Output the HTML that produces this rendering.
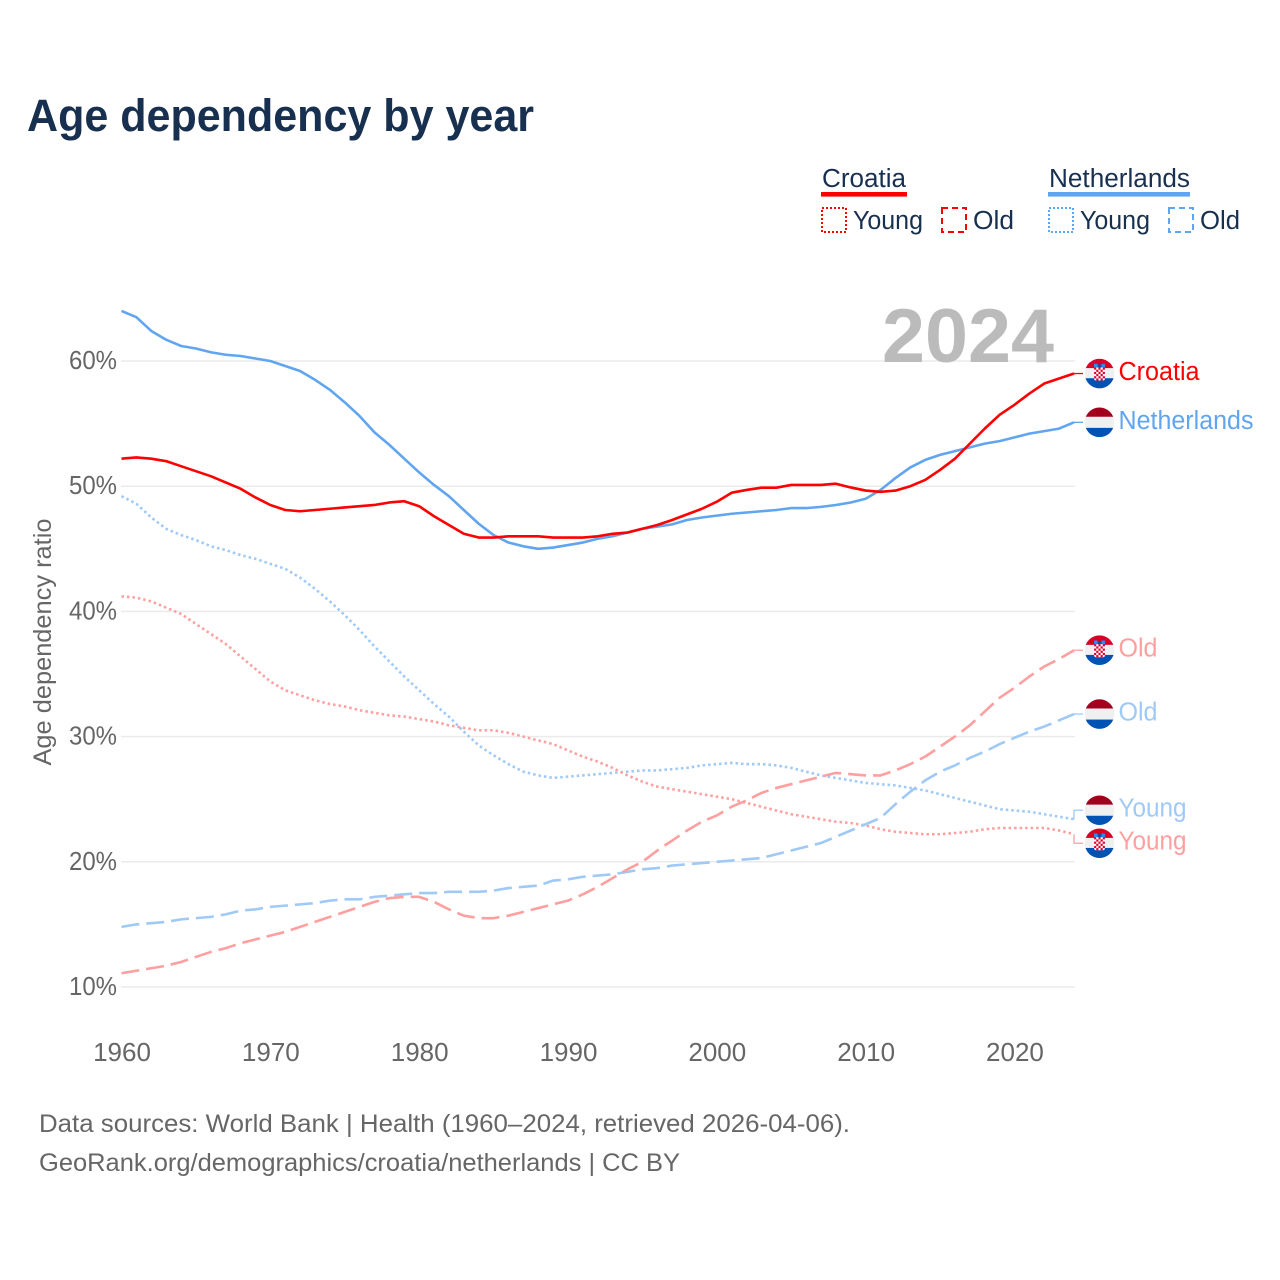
<!DOCTYPE html>
<html lang="en">
<head>
<meta charset="utf-8">
<title>Age dependency by year</title>
<style>
html,body{margin:0;padding:0;background:#fff}
svg{display:block;font-family:"Liberation Sans",sans-serif}
</style>
</head>
<body>
<svg id="chart" xmlns="http://www.w3.org/2000/svg" width="1280" height="1280" viewBox="0 0 1280 1280">
  <defs>
    <clipPath id="flag-clip"><circle cx="0" cy="0" r="14.8"></circle></clipPath>
  </defs>
  <rect width="1280" height="1280" fill="#fff"></rect>
  <text x="27" y="131" font-size="45" font-weight="700" fill="#18304f" textLength="507" lengthAdjust="spacingAndGlyphs">Age dependency by year</text>

  <g font-size="25.5" fill="#18304f">
    <g>
      <text x="822" y="187" textLength="84" lengthAdjust="spacingAndGlyphs">Croatia</text>
      <rect x="821" y="192" width="86" height="4.6" fill="#ff0000"></rect>
      <rect x="822" y="208" width="24" height="24" fill="none" stroke="#ff0000" stroke-width="2" stroke-dasharray="2 2"></rect>
      <text x="853" y="229" textLength="70" lengthAdjust="spacingAndGlyphs">Young</text>
      <rect x="942" y="208" width="24" height="24" fill="none" stroke="#ff0000" stroke-width="2" stroke-dasharray="6 4"></rect>
      <text x="973" y="229" textLength="41" lengthAdjust="spacingAndGlyphs">Old</text>
    </g>
    <g>
      <text x="1049" y="187" textLength="141" lengthAdjust="spacingAndGlyphs">Netherlands</text>
      <rect x="1048" y="192" width="142" height="4.6" fill="#60a5f0"></rect>
      <rect x="1049" y="208" width="24" height="24" fill="none" stroke="#60a5f0" stroke-width="2" stroke-dasharray="2 2"></rect>
      <text x="1080" y="229" textLength="70" lengthAdjust="spacingAndGlyphs">Young</text>
      <rect x="1169" y="208" width="24" height="24" fill="none" stroke="#60a5f0" stroke-width="2" stroke-dasharray="6 4"></rect>
      <text x="1200" y="229" textLength="40" lengthAdjust="spacingAndGlyphs">Old</text>
    </g>
  </g>

  <g id="grid"></g>
  <g id="yticks" font-size="26" fill="#666"></g>
  <g id="xticks" font-size="26" fill="#666"></g>
  <text transform="translate(51,642) rotate(-90)" text-anchor="middle" font-size="25" fill="#666" textLength="247" lengthAdjust="spacingAndGlyphs">Age dependency ratio</text>
  <text x="882" y="362" font-size="76" font-weight="700" fill="#bbbbbb" textLength="172" lengthAdjust="spacingAndGlyphs">2024</text>
  <g id="series"></g>
  <g id="endlabels"></g>

  <text x="39" y="1132" font-size="25" fill="#666" textLength="811" lengthAdjust="spacingAndGlyphs">Data sources: World Bank | Health (1960–2024, retrieved 2026-04-06).</text>
  <text x="39" y="1171" font-size="25" fill="#666" textLength="641" lengthAdjust="spacingAndGlyphs">GeoRank.org/demographics/croatia/netherlands | CC BY</text>
</svg>
<script>
const firstYear = 1960;
const xTickYears = [1960, 1970, 1980, 1990, 2000, 2010, 2020];
const yTickValues = [10, 20, 30, 40, 50, 60];

const croatiaTotal = [52.2,52.3,52.2,52.0,51.6,51.2,50.8,50.3,49.8,49.1,48.5,48.1,48.0,48.1,48.2,48.3,48.4,48.5,48.7,48.8,48.4,47.6,46.9,46.2,45.9,45.9,46.0,46.0,46.0,45.9,45.9,45.9,46.0,46.2,46.3,46.6,46.9,47.3,47.75,48.2,48.76,49.48,49.7,49.88,49.88,50.1,50.1,50.1,50.2,49.9,49.65,49.55,49.65,50.0,50.5,51.3,52.2,53.4,54.6,55.7,56.5,57.4,58.2,58.6,59.0];
const netherlandsTotal = [64.0,63.5,62.4,61.7,61.2,61.0,60.7,60.5,60.4,60.2,60.0,59.6,59.2,58.5,57.7,56.7,55.6,54.3,53.3,52.2,51.1,50.1,49.2,48.1,47.0,46.1,45.5,45.2,45.0,45.1,45.3,45.5,45.8,46.0,46.3,46.6,46.77,46.95,47.3,47.5,47.65,47.8,47.9,48.0,48.1,48.25,48.25,48.35,48.5,48.7,49.0,49.7,50.65,51.5,52.1,52.5,52.8,53.1,53.4,53.6,53.9,54.2,54.4,54.6,55.1];
const croatiaYoung = [41.2,41.1,40.8,40.3,39.8,39.0,38.2,37.4,36.4,35.4,34.4,33.7,33.3,32.9,32.6,32.4,32.1,31.9,31.7,31.6,31.4,31.2,30.9,30.7,30.5,30.5,30.3,30.0,29.7,29.4,28.9,28.4,28.0,27.5,26.9,26.4,26.0,25.8,25.6,25.4,25.2,25.0,24.7,24.4,24.1,23.8,23.6,23.4,23.2,23.1,22.9,22.6,22.4,22.3,22.2,22.2,22.3,22.4,22.6,22.7,22.7,22.7,22.7,22.5,22.2];
const netherlandsYoung = [49.2,48.6,47.5,46.6,46.1,45.7,45.2,44.9,44.5,44.2,43.8,43.4,42.7,41.8,40.8,39.7,38.5,37.2,36.0,34.8,33.7,32.6,31.6,30.4,29.3,28.5,27.8,27.2,26.9,26.7,26.8,26.9,27.0,27.1,27.2,27.3,27.3,27.4,27.5,27.7,27.8,27.9,27.8,27.8,27.7,27.5,27.2,26.9,26.7,26.5,26.3,26.2,26.1,25.9,25.7,25.4,25.1,24.8,24.5,24.2,24.1,24.0,23.8,23.6,23.4];
const croatiaOld = [11.1,11.3,11.5,11.7,12.0,12.4,12.8,13.1,13.5,13.8,14.1,14.4,14.8,15.2,15.6,16.0,16.4,16.8,17.1,17.2,17.2,16.8,16.2,15.7,15.5,15.5,15.7,16.0,16.3,16.6,16.9,17.4,18.0,18.7,19.4,20.0,20.9,21.7,22.5,23.2,23.7,24.4,24.9,25.5,25.9,26.2,26.5,26.8,27.1,27.0,26.9,26.9,27.3,27.8,28.4,29.2,30.0,30.9,32.0,33.1,33.9,34.8,35.6,36.2,36.9];
const netherlandsOld = [14.8,15.0,15.1,15.2,15.4,15.5,15.6,15.8,16.1,16.2,16.4,16.5,16.6,16.7,16.9,17.0,17.0,17.2,17.3,17.4,17.5,17.5,17.6,17.6,17.6,17.7,17.9,18.0,18.1,18.5,18.6,18.8,18.9,19.0,19.2,19.4,19.5,19.7,19.8,19.9,20.0,20.1,20.2,20.3,20.6,20.9,21.2,21.5,22.0,22.5,23.0,23.5,24.6,25.6,26.5,27.2,27.7,28.3,28.8,29.4,29.9,30.4,30.8,31.3,31.8];

const SVG_NS = 'http://www.w3.org/2000/svg';
function xScale(year) { return 121.5 + (year - 1960) * (1074 - 121.5) / 64; }
function yScale(v) { return 987 - (v - 10) * 12.52; }
function make(tag, attrs, parent) {
  const el = document.createElementNS(SVG_NS, tag);
  for (const k in attrs) el.setAttribute(k, attrs[k]);
  parent.appendChild(el);
  return el;
}

const grid = document.getElementById('grid');
const yticks = document.getElementById('yticks');
const xticks = document.getElementById('xticks');
const seriesGroup = document.getElementById('series');
const endLabels = document.getElementById('endlabels');

yTickValues.forEach(function (v) {
  const line = make('line', { x1: 121, x2: 1075, y1: yScale(v), y2: yScale(v), stroke: '#ebebeb', 'stroke-width': 1.5 }, grid);
  
  
  const label = make('text', { x: 117, y: yScale(v) + 8, 'text-anchor': 'end', textLength: 48, lengthAdjust: 'spacingAndGlyphs' }, yticks);
  label.textContent = v + '%';
  
  
});

xTickYears.forEach(function (year) {
  const label = make('text', { x: xScale(year) + 0.5, y: 1061, 'text-anchor': 'middle' }, xticks);
  label.textContent = year;
  
  
});

const seriesList = [
  { key: 'netherlands-young', values: netherlandsYoung, color: '#9fc9f6', dash: '2.5 3', label: 'Young', flag: 'nl', width: 68 },
  { key: 'croatia-young', values: croatiaYoung, color: '#ff9f9f', dash: '2.5 3', label: 'Young', flag: 'hr', width: 68 },
  { key: 'netherlands-old', values: netherlandsOld, color: '#9fc9f6', dash: '18 7', label: 'Old', flag: 'nl', width: 39 },
  { key: 'croatia-old', values: croatiaOld, color: '#ff9f9f', dash: '18 7', label: 'Old', flag: 'hr', width: 39 },
  { key: 'netherlands-total', values: netherlandsTotal, color: '#60a5f0', dash: null, label: 'Netherlands', flag: 'nl', width: 135 },
  { key: 'croatia-total', values: croatiaTotal, color: '#ff0000', dash: null, label: 'Croatia', flag: 'hr', width: 81 }
];

function seriesPath(values) {
  return values.map(function (v, i) {
    return (i ? 'L' : 'M') + xScale(firstYear + i).toFixed(2) + ',' + yScale(v).toFixed(2);
  }).join('');
}

function dodgedLabelY(s) {
  const own = yScale(s.values[s.values.length - 1]);
  const minGap = 33;
  let result = own;
  seriesList.forEach(function (other) {
    if (other === s) return;
    const y = yScale(other.values[other.values.length - 1]);
    if (Math.abs(y - own) < minGap) {
      const mid = (y + own) / 2;
      result = own < y ? mid - minGap / 2 : mid + minGap / 2;
    }
  });
  return result;
}

function drawFlag(kind, parent) {
  const g = make('g', { 'clip-path': 'url(#flag-clip)' }, parent);
  const topColor = kind === 'nl' ? '#a2001d' : '#d80027';
  const splitTop = kind === 'nl' ? -5.5 : -5.3;
  const splitBottom = kind === 'nl' ? 5.5 : 4.7;
  make('rect', { x: -15, y: -15, width: 30, height: splitTop + 15, fill: topColor }, g);
  make('rect', { x: -15, y: splitTop, width: 30, height: splitBottom - splitTop, fill: '#f0f0f0' }, g);
  make('rect', { x: -15, y: splitBottom, width: 30, height: 15 - splitBottom, fill: '#0052b4' }, g);
  if (kind === 'hr') {
    make('rect', { x: -5.5, y: -9.7, width: 3.6, height: 3.8, fill: '#338af3' }, g);
    make('rect', { x: -1.5, y: -9, width: 3.2, height: 3.1, fill: '#0052b4' }, g);
    make('rect', { x: 2, y: -9.7, width: 3.6, height: 3.8, fill: '#338af3' }, g);
    make('rect', { x: -5.4, y: -6, width: 10.8, height: 13, rx: 2, fill: '#fff' }, g);
    for (let r = 0; r < 6; r++) {
      for (let c = 0; c < 5; c++) {
        if ((r + c) % 2 === 0) {
          make('rect', { x: -5.4 + c * 2.16, y: -6 + r * 2.17, width: 2.16, height: 2.17, fill: '#d80027' }, g);
        }
      }
    }
  }
  return g;
}

seriesList.forEach(function (s) {
  const attrs = { d: seriesPath(s.values), fill: 'none', stroke: s.color, 'stroke-width': 2.6, 'stroke-linejoin': 'round' };
  if (s.dash) attrs['stroke-dasharray'] = s.dash;
  const path = make('path', attrs, seriesGroup);
  
  

  const yEnd = yScale(s.values[s.values.length - 1]);
  const yLabel = dodgedLabelY(s);
  const xEnd = xScale(firstYear + s.values.length - 1);
  const connector = make('path', { d: 'M' + xEnd + ',' + yEnd + 'V' + yLabel + 'H1083', fill: 'none', stroke: s.color, 'stroke-width': 1.3 }, endLabels);
  
  

  const flag = make('g', { transform: 'translate(1099.5,' + yLabel + ')' }, endLabels);
  
  
  drawFlag(s.flag, flag);

  const text = make('text', { x: 1118.5, y: yLabel + 6.5, 'font-size': 25.5, fill: s.color, textLength: s.width, lengthAdjust: 'spacingAndGlyphs' }, endLabels);
  text.textContent = s.label;
  
  
});
</script>
</body>
</html>
